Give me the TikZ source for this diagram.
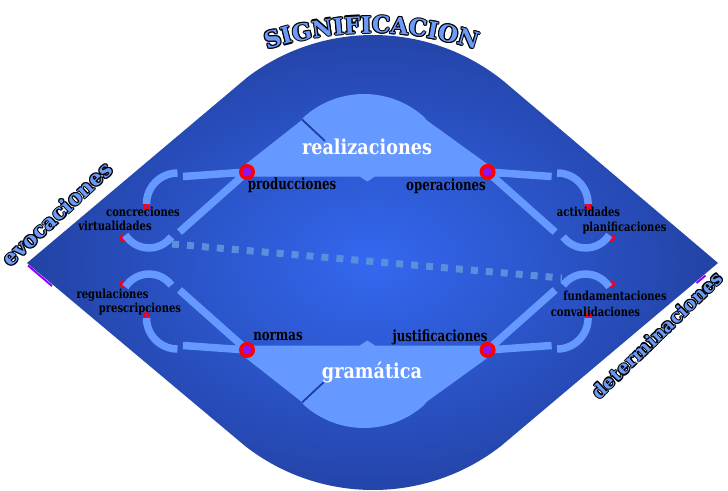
\documentclass[tikz,border=0pt]{standalone}
\usepackage{fontspec}
\setmainfont{DejaVu Serif}
\newfontfamily\lblfont{DejaVu Serif}[FakeStretch=0.76]
\newfontfamily\smfont{DejaVu Serif}[FakeStretch=0.8]
\newfontfamily\bigfont{DejaVu Serif}[FakeStretch=0.86]
\usetikzlibrary{calc,decorations.text}
\definecolor{lenscenter}{RGB}{52,104,240}
\definecolor{lensedge}{RGB}{33,63,158}
\definecolor{lightb}{RGB}{102,153,255}
\definecolor{darkline}{RGB}{32,62,160}
\definecolor{dashb}{RGB}{92,142,222}
\definecolor{dotfill}{RGB}{140,20,245}
\definecolor{titleb}{RGB}{108,155,250}
\definecolor{edgepurple}{RGB}{150,0,255}
\pgfdeclareradialshading{lensshade}{\pgfpoint{0bp}{0bp}}{color(0bp)=(lenscenter); color(27bp)=(lensedge); color(50bp)=(lensedge)}
\newcommand\mytitlefont{\bfseries\fontsize{23}{23}\selectfont}
\tikzset{
  conn/.style={draw=lightb, line width=7.5pt},
  bigdot/.style={circle, draw=red, line width=3.5pt, fill=dotfill, minimum size=12.5pt, inner sep=0pt},
  capdot/.style={circle, draw=red, line width=2pt, fill=dotfill, minimum size=5pt, inner sep=0pt},
  mainlbl/.style={font=\lblfont\bfseries\fontsize{15.5}{16}\selectfont, text=black, inner sep=0pt},
  smalllbl/.style={font=\smfont\bfseries\fontsize{12.5}{13}\selectfont, text=black, inner sep=0pt},
  whitelbl/.style={font=\bigfont\bfseries\fontsize{20.5}{21}\selectfont, text=white, inner sep=0pt},
  centershape/.style={fill=lightb},
  notchline/.style={draw=darkline, line width=1.8pt},
  dashline/.style={draw=dashb, line width=7pt, dash pattern=on 7pt off 8pt},
  edgemark/.style={draw=edgepurple, line width=2pt},
}
\newcommand\myquad[1]{%
  \coordinate (p#1) at (247,172);
  \coordinate (h#1) at (183,176.5);
  \coordinate (g#1) at (179.5,232);
  \coordinate (ua#1) at (177.5,173);
  \coordinate (la#1) at (125.4,235);
  \node[capdot] (cu#1) at (146.5,206.5) {};
  \node[capdot] (cl#1) at (123,238) {};
  \draw[conn] (h#1) -- (p#1);
  \draw[conn] (g#1) -- (p#1);
  \draw[conn] (ua#1) arc[start angle=-90, end angle=-180, radius=31];
  \draw[conn] (la#1) arc[start angle=147.5, end angle=37, radius=28];
  \node[bigdot] (d#1) at (p#1) {};
}
\newcommand\mycentral[1]{%
  \fill[centershape] (230,176.5) -- (300,121.5) -- (304.5,116.5) arc[start angle=-131.4, end angle=-48.6, radius=90] -- (427,120.5) -- (504.6,176.5) -- (375,176.5) -- (367.3,181.5) -- (359.6,176.5) -- cycle;
  \coordinate (na#1) at (302,119.5);
  \coordinate (nb#1) at (325,141);
  \draw[notchline] (na#1) -- (nb#1);
}
\newcommand\outlined[6]{%
  \foreach \ox/\oy [count=\k] in {1.1/0,-1.1/0,0/1.1,0/-1.1,0.8/0.8,-0.8/0.8,0.8/-0.8,-0.8/-0.8}{%
    \node[rotate=#4, text=black, inner sep=0pt, font=\bfseries\fontsize{#5}{#5}\selectfont] (#1-\k) at (#2+\ox,#3+\oy) {#6};
  }%
  \node[rotate=#4, text=titleb, inner sep=0pt, font=\bfseries\fontsize{#5}{#5}\selectfont] (#1) at (#2,#3) {#6};
}
\begin{document}
\begin{tikzpicture}[x=1pt,y=-1pt]
\useasboundingbox (0,0) rectangle (728,490);
% lens
\shade[shading=lensshade] (27,263) -- (247.8,76.9) arc[start angle=-127, end angle=-51, radius=208] -- (718,263) -- (501.1,445.9) arc[start angle=52, end angle=128, radius=208] -- cycle;
\coordinate (ea) at (28,265.5);
\coordinate (eb) at (52,286);
\coordinate (ec) at (696.5,283);
\coordinate (ed) at (705.5,275.5);
\draw[edgemark] (ea) -- (eb);
\draw[edgemark] (ec) -- (ed);
% dashed diagonal
\coordinate (dl) at (172,244);
\coordinate (dr) at (562,278);
\draw[dashline] (dl) -- (dr);
% central shapes
\mycentral{T}
\begin{scope}[shift={(0,522)}, yscale=-1]\mycentral{B}\end{scope}
% quadrants
\myquad{TL}
\begin{scope}[shift={(734.6,0)}, xscale=-1]\myquad{TR}\end{scope}
\begin{scope}[shift={(0,522)}, yscale=-1]\myquad{BL}\end{scope}
\begin{scope}[shift={(734.6,522)}, xscale=-1, yscale=-1]\myquad{BR}\end{scope}
% labels
\node[whitelbl] (real) at (367,146.5) {realizaciones};
\node[whitelbl] (gram) at (372,372.5) {gramática};
\node[mainlbl] (prod) at (292,185) {producciones};
\node[mainlbl] (oper) at (446,186) {operaciones};
\node[mainlbl] (norm) at (278,336) {normas};
\node[mainlbl] (just) at (440,337.5) {justificaciones};
\node[smalllbl] (conc) at (143,212) {concreciones};
\node[smalllbl] (virt) at (115,226) {virtualidades};
\node[smalllbl] (regu) at (112.5,295) {regulaciones};
\node[smalllbl] (pres) at (140,309) {prescripciones};
\node[smalllbl] (acti) at (588.5,212) {actividades};
\node[smalllbl] (plan) at (624.5,228) {planificaciones};
\node[smalllbl] (fund) at (615,295.5) {fundamentaciones};
\node[smalllbl] (conv) at (595.5,311.5) {convalidaciones};
% outlined side words
\outlined{evoc}{57}{214}{43}{21}{evocaciones}
\outlined{dete}{657}{335}{44}{18.5}{determinaciones}
% title along arc
\foreach \ox/\oy in {1.1/0,-1.1/0,0/1.1,0/-1.1,0.8/0.8,-0.8/0.8,0.8/-0.8,-0.8/-0.8}{%
  \path[shift={(\ox,\oy)}, decorate, decoration={text along path, text={|\mytitlefont|SIGNIFICACION}, text align=center, text color=black}] (232.5,63.9) arc[start angle=-115, end angle=-65, radius=330];
}
\path[decorate, decoration={text along path, text={|\mytitlefont|SIGNIFICACION}, text align=center, text color=titleb}] (232.5,63.9) arc[start angle=-115, end angle=-65, radius=330];
\end{tikzpicture}
\end{document}
